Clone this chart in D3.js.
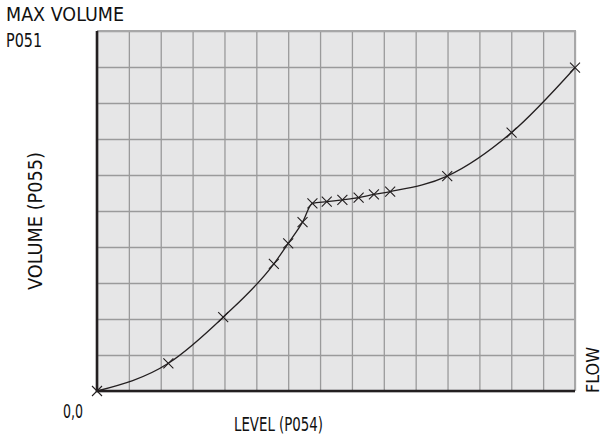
<!DOCTYPE html>
<html><head><meta charset="utf-8">
<script src="https://cdn.jsdelivr.net/npm/d3@7"></script>
<style>html,body{margin:0;padding:0;background:#fff;}svg{display:block;}</style>
</head><body>
<svg id="chart" width="604" height="438"></svg>
<script>
// Data (grid units: level 0..15, volume 0..10)
const levels  = [0, 2.24, 3.96, 5.55, 6.0, 6.45, 6.76, 7.21, 7.70, 8.21, 8.69, 9.20, 10.99, 13.01, 15.0];
const volumes = [0, 0.77, 2.05, 3.53, 4.1, 4.69, 5.21, 5.26, 5.31, 5.37, 5.46, 5.54, 5.97, 7.18, 8.98];
const xDomain = [0, 15];
const yDomain = [0, 10];
const xTicks = d3.range(0, 16, 1);
const yTicks = d3.range(0, 11, 1);
const labels = {
  maxVolume: "MAX VOLUME",
  maxParam: "P051",
  origin: "0,0",
  xTitle: "LEVEL (P054)",
  yTitle: "VOLUME (P055)",
  right: "FLOW"
};

const svg = d3.select("#chart");
const L = 97, R = 575, T = 31, B = 391;
const x = d3.scaleLinear().domain(xDomain).range([L, R]);
const y = d3.scaleLinear().domain(yDomain).range([B, T]);
const font = "'Liberation Sans Narrow','DejaVu Sans Condensed','Arial Narrow',Arial,sans-serif";
const ink = "#231f20";

svg.append("rect").attr("x", L).attr("y", T).attr("width", R - L).attr("height", B - T).attr("fill", "#e6e6e7");

// grid via axes
const gx = svg.append("g").attr("transform", `translate(0,${B})`)
  .call(d3.axisBottom(x).tickValues(xTicks).tickSize(-(B - T)).tickFormat(""));
const gy = svg.append("g").attr("transform", `translate(${L},0)`)
  .call(d3.axisLeft(y).tickValues(yTicks).tickSize(-(R - L)).tickFormat(""));
[gx, gy].forEach(g => {
  g.select(".domain").remove();
  g.selectAll(".tick line").attr("stroke", "#9a9a9b").attr("stroke-width", 1.3);
});

// top/right border
svg.append("path").attr("d", `M${L},${T}H${R}V${B}`).attr("fill", "none").attr("stroke", "#a7a7a8").attr("stroke-width", 2);
// main axes
svg.append("path").attr("d", `M${L},${T}V${B}H${R}`).attr("fill", "none").attr("stroke", ink).attr("stroke-width", 2.6);

const pts = levels.map((l, i) => [l, volumes[i]]);
const line = d3.line().x(d => x(d[0])).y(d => y(d[1])).curve(d3.curveMonotoneX);
svg.append("path").attr("d", line(pts)).attr("fill", "none").attr("stroke", ink).attr("stroke-width", 1.3);

const s = 5;
svg.append("g").selectAll("path").data(pts).join("path")
  .attr("d", d => { const cx = x(d[0]), cy = y(d[1]); return `M${cx - s},${cy - s}L${cx + s},${cy + s}M${cx - s},${cy + s}L${cx + s},${cy - s}`; })
  .attr("stroke", ink).attr("stroke-width", 1.1).attr("fill", "none");

function txt(t, px, py, len, rot, size) {
  const e = svg.append("text").text(t).attr("font-family", font).attr("font-size", size || 19.5)
    .attr("fill", "#111").attr("textLength", len).attr("lengthAdjust", "spacingAndGlyphs");
  if (rot) e.attr("transform", `translate(${px},${py}) rotate(-90)`);
  else e.attr("x", px).attr("y", py);
  return e;
}
txt(labels.maxVolume, 6, 21, 118);
txt(labels.maxParam, 6, 47, 36);
txt(labels.origin, 63, 418, 20);
txt(labels.xTitle, 234, 431, 89);
txt(labels.yTitle, 42, 290, 138, true);
txt(labels.right, 599, 393, 46, true, 18);
</script>
</body></html>
